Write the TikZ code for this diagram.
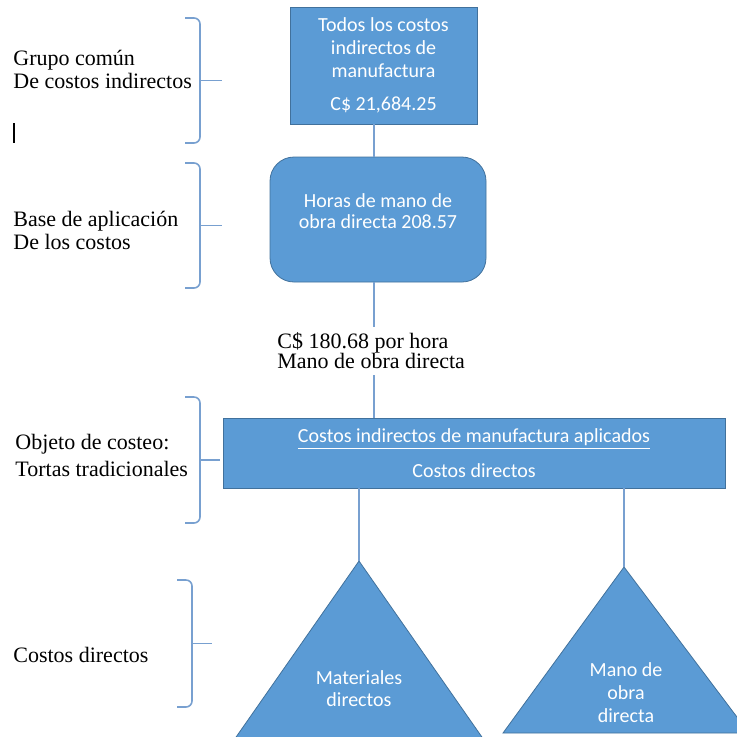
\documentclass[tikz,border=0pt]{standalone}
\usepackage{fontspec}
\setmainfont{Liberation Serif}
\newfontfamily\boxfont{Carlito}
\usepackage{xcolor}
\usetikzlibrary{positioning}

\definecolor{boxblue}{RGB}{91,155,213}
\definecolor{boxedge}{RGB}{65,113,156}
\definecolor{linkblue}{RGB}{120,160,208}

\begin{document}
\begin{tikzpicture}[
  x=0.5pt, y=-0.5pt,
  cbox/.style={rectangle, draw=boxedge, fill=boxblue, text=white, align=center,
    inner sep=0pt, font=\boxfont\fontsize{10}{11.5}\selectfont},
  rbox/.style={cbox, rounded corners=12pt},
  tritext/.style={text=white, align=center, inner sep=0pt,
    font=\boxfont\fontsize{10}{11}\selectfont},
  lbl/.style={anchor=west, align=left, inner sep=0pt,
    font=\fontsize{11}{11.5}\selectfont},
  tri/.style={draw=boxedge, fill=boxblue},
  link/.style={draw=linkblue, line width=1pt},
  brc/.style={draw=linkblue, line width=0.8pt, rounded corners=3pt}
]
\clip (0,0) rectangle (737,736);

% left column
\node[lbl] (grupo) at (13,69.5) {Grupo común\\De costos indirectos};
\node[lbl] (base) at (13,230.5) {Base de aplicación\\De los costos};
\node[lbl, font=\fontsize{11}{13.5}\selectfont] (objeto) at (15,455.5) {Objeto de costeo:\\Tortas tradicionales};
\node[lbl] (cdir) at (13,655) {Costos directos};
\draw[line width=0.8pt] (14,123) -- (14,143);

\foreach \bx/\bt/\bb/\tk in {200/18/143/22, 200/163/288/22, 200/397/523/20, 192/580/707/20} {
  \draw[brc] (\bx-15,\bt) -- (\bx,\bt) -- (\bx,\bb) -- (\bx-15,\bb);
  \draw[brc] (\bx,{(\bt+\bb)/2}) -- ++(\tk,0);
}

% boxes
\coordinate (spine) at (374,0);
\node[cbox, minimum width=93.5pt, minimum height=58.5pt] (todos) at (383.5,65.5)
  {Todos los costos\\indirectos de\\manufactura\\[5pt]C\$ 21,684.25};
\node[rbox, minimum width=108pt, minimum height=62.5pt,
  font=\boxfont\fontsize{10}{10.5}\selectfont] (horas) at (378,219.5)
  {Horas de mano de\\obra directa 208.57\\[-2pt]};
\node[lbl, inner ysep=3pt, font=\fontsize{11}{10}\selectfont] (tasa) at (277,351)
  {C\$ 180.68 por hora\\Mano de obra directa};
\node[cbox, minimum width=251pt, minimum height=35pt] (aplic) at (474,453)
  {\underline{Costos indirectos de manufactura aplicados}\\[6pt]Costos directos};

\draw[link] (todos.south -| spine) -- (horas.north -| spine);
\draw[link] (horas.south -| spine) -- (tasa.north -| spine);
\draw[link] (tasa.south -| spine) -- (aplic.north -| spine);

% triangles
\coordinate (matTop) at (359,561);
\coordinate (manoTop) at (624,567);
\draw[tri] (matTop) -- (234,740) -- (484,740) -- cycle;
\draw[tri] (manoTop) -- (503,733) -- (749,733) -- cycle;
\node[tritext] (mat) at (359,689) {Materiales\\directos};
\node[tritext, font=\boxfont\fontsize{10}{11.5}\selectfont] (mano) at (626,693) {Mano de\\obra\\directa};

\draw[link] (aplic.south -| matTop) -- (matTop);
\draw[link] (aplic.south -| manoTop) -- (manoTop);
\end{tikzpicture}
\end{document}
